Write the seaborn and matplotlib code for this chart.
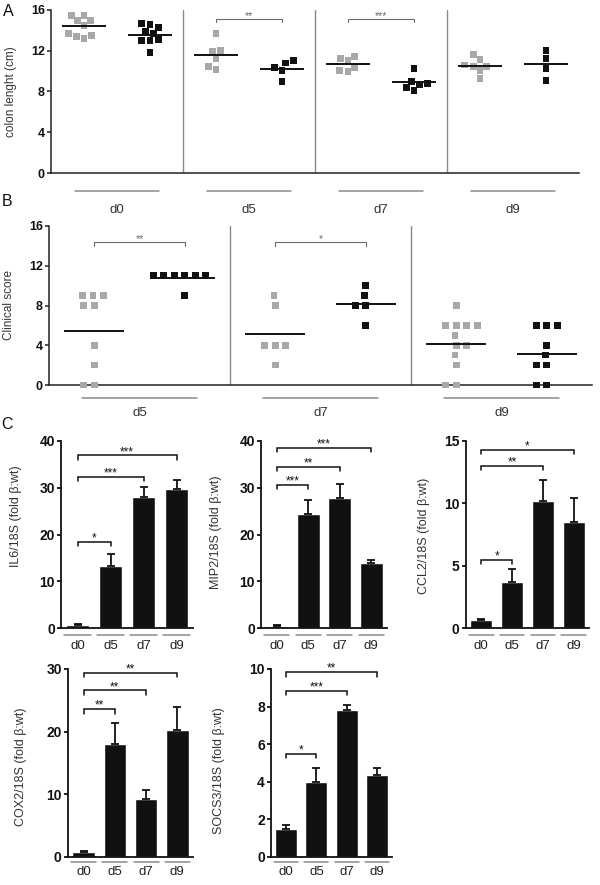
import numpy as np
import pandas as pd
import matplotlib
matplotlib.use("Agg")
import matplotlib.pyplot as plt
import matplotlib.transforms as mtransforms
import seaborn as sns

sns.set_theme(style="ticks")
plt.rcParams["font.family"] = ["Liberation Sans", "DejaVu Sans"]

GREY = "#a8a8a8"
BLACK = "#111111"

# ---------------- Panel A : colon length ----------------
a_days = ["d0", "d5", "d7", "d9"]
a_grey_d0 = [15.0, 15.5, 15.5, 15.0, 14.5, 13.5, 13.2, 13.7, 13.4]
a_black_d0 = [14.7, 14.3, 14.6, 13.7, 13.9, 13.0, 13.0, 13.1, 11.8]
a_grey_d5 = [13.7, 11.9, 12.0, 11.2, 10.2, 10.5]
a_black_d5 = [11.0, 10.8, 10.4, 10.1, 9.0]
a_grey_d7 = [11.2, 11.0, 11.4, 10.4, 10.0, 10.1]
a_black_d7 = [10.3, 9.0, 8.7, 8.8, 8.1, 8.4]
a_grey_d9 = [11.6, 11.1, 10.5, 10.5, 10.6, 10.1, 9.3]
a_black_d9 = [12.0, 11.2, 10.3, 9.1]
a_grey_line = [14.4, 11.6, 10.7, 10.5]
a_black_line = [13.5, 10.2, 8.9, 10.7]
a_sig = [("d5", 15.1, "**"), ("d7", 15.1, "***")]

# ---------------- Panel B : clinical score ----------------
b_days = ["d5", "d7", "d9"]
b_grey_d5 = [9, 9, 9, 8, 8, 4, 2, 0, 0]
b_black_d5 = [11, 11, 11, 11, 11, 11, 9]
b_grey_d7 = [9, 8, 4, 4, 4, 2]
b_black_d7 = [10, 9, 8, 8, 6]
b_grey_d9 = [8, 6, 6, 6, 6, 5, 4, 4, 3, 2, 0, 0]
b_black_d9 = [6, 6, 6, 4, 3, 2, 2, 0, 0]
b_grey_line = [5.4, 5.1, 4.1]
b_black_line = [10.8, 8.2, 3.1]
b_sig = [("d5", 14.4, "**"), ("d7", 14.4, "*")]

# ---------------- Panel C : qPCR bars ----------------
c_days = ["d0", "d5", "d7", "d9"]
il6_mean = [0.6, 13.2, 28.1, 29.8]
il6_sem = [0.2, 2.6, 2.1, 1.8]
mip2_mean = [0.5, 24.4, 27.8, 13.9]
mip2_sem = [0.15, 2.9, 2.9, 0.7]
ccl2_mean = [0.65, 3.7, 10.2, 8.5]
ccl2_sem = [0.05, 1.0, 1.7, 1.9]
cox2_mean = [0.8, 18.0, 9.2, 20.2]
cox2_sem = [0.1, 3.4, 1.5, 3.7]
socs3_mean = [1.5, 4.0, 7.83, 4.36]
socs3_sem = [0.2, 0.75, 0.25, 0.35]
il6_sig = [(1, 18.4, "*"), (2, 32.4, "***"), (3, 36.9, "***")]
mip2_sig = [(1, 30.6, "***"), (2, 34.5, "**"), (3, 38.6, "***")]
ccl2_sig = [(1, 5.47, "*"), (2, 13.0, "**"), (3, 14.3, "*")]
cox2_sig = [(1, 23.6, "**"), (2, 26.6, "**"), (3, 29.4, "**")]
socs3_sig = [(1, 5.5, "*"), (2, 8.85, "***"), (3, 9.84, "**")]

W, H = 600, 885
fig = plt.figure(figsize=(W / 100, H / 100), dpi=100)


def add_axes(l, r, t, b):
    return fig.add_axes([l / W, 1 - b / H, (r - l) / W, (b - t) / H])


def style_axis(ax, tsize, lw=1.1, col="#222222"):
    sns.despine(ax=ax)
    for s in ("left", "bottom"):
        ax.spines[s].set_linewidth(lw)
        ax.spines[s].set_color(col)
    ax.tick_params(axis="y", length=3, width=lw, color=col, labelsize=tsize,
                   pad=1.5, labelcolor="#111111")
    for lbl in ax.get_yticklabels():
        lbl.set_fontweight("bold")


def bracket(ax, x1, x2, y, text, tip_px, color, lw, fsize, off):
    h = tip_px * (ax.get_ylim()[1] - ax.get_ylim()[0]) / ax.get_window_extent().height
    ax.plot([x1, x1, x2, x2], [y - h, y, y, y - h], color=color, lw=lw,
            clip_on=False, solid_joinstyle="miter")
    ax.annotate(text, ((x1 + x2) / 2, y), xytext=(0, off), textcoords="offset points",
                ha="center", va="bottom", fontsize=fsize, color=color)


def scatter_panel(ax, days, greys, blacks, gline, bline, sig, msize, gap,
                  ylabel, under_frac, label_pad, tip_px):
    rows = []
    order = []
    for d, g, b in zip(days, greys, blacks):
        order += [d + " wt", d + " mut"]
        rows += [(d + " wt", "wt", v) for v in g]
        rows += [(d + " mut", "mut", v) for v in b]
    df = pd.DataFrame(rows, columns=["slot", "group", "value"])
    sns.swarmplot(data=df, x="slot", y="value", hue="group", order=order,
                  palette={"wt": GREY, "mut": BLACK}, marker="s", size=msize,
                  linewidth=gap, edgecolor="none", legend=False, ax=ax, zorder=3)
    for c in ax.collections:
        c.set_clip_on(False)
    n = len(order)
    ax.set_xlim(-0.5, n - 0.5)
    ax.set_ylim(0, 16)
    ax.set_yticks([0, 4, 8, 12, 16])
    pos_g = np.arange(0, n, 2)
    pos_b = pos_g + 1
    ax.hlines(gline, pos_g - 0.33, pos_g + 0.33, color="#111111", lw=1.4, zorder=4)
    ax.hlines(bline, pos_b - 0.33, pos_b + 0.33, color="#111111", lw=1.4, zorder=4)
    for sep in pos_g[1:] - 0.5:
        ax.axvline(sep, color="#8a8a8a", lw=1.0, zorder=1)
    ax.set_xticks(pos_g + 0.5)
    ax.set_xticklabels(days, fontsize=9.5, color="#333333")
    ax.tick_params(axis="x", length=0, pad=label_pad)
    ax.set_xlabel("")
    trans = mtransforms.blended_transform_factory(ax.transData, ax.transAxes)
    for c in pos_g + 0.5:
        ax.plot([c - 0.64, c + 0.64], [under_frac, under_frac], color="#8a8a8a",
                lw=1.1, transform=trans, clip_on=False)
    style_axis(ax, 9)
    ax.set_ylabel(ylabel, fontsize=8.5, color="#333333")
    for d, y, t in sig:
        i = days.index(d) * 2
        bracket(ax, i, i + 1, y, t, tip_px, "#6a6a6a", 0.8, 7.5, -1.5)


# Panel A
axA = add_axes(51, 579, 10, 173)
scatter_panel(axA, a_days,
              [a_grey_d0, a_grey_d5, a_grey_d7, a_grey_d9],
              [a_black_d0, a_black_d5, a_black_d7, a_black_d9],
              a_grey_line, a_black_line, a_sig, 5.0, 0.6, "colon lenght (cm)",
              -18 / 163, 22, 3)
axA.yaxis.set_label_coords(-0.064, 0.5)

# Panel B
axB = add_axes(49, 592, 226, 385)
scatter_panel(axB, b_days,
              [b_grey_d5, b_grey_d7, b_grey_d9],
              [b_black_d5, b_black_d7, b_black_d9],
              b_grey_line, b_black_line, b_sig, 4.7, 2.5, "Clinical score",
              -13 / 159, 16, 4)
axB.yaxis.set_label_coords(-0.063, 0.5)


def bar_panel(ax, means, sems, sig, ylim, yticks, ylabel, lab_xy, under_frac, pad):
    df = pd.DataFrame({"day": c_days, "value": means})
    sns.barplot(data=df, x="day", y="value", order=c_days, color=BLACK,
                width=0.72, errorbar=None, ax=ax, saturation=1, zorder=2)
    x = np.arange(len(c_days))
    ax.errorbar(x, means, yerr=[np.zeros(len(means)), sems], fmt="none",
                ecolor=BLACK, elinewidth=1.3, capsize=3, capthick=1.3, zorder=3)
    ax.set_xlim(-0.5, len(c_days) - 0.5)
    ax.set_ylim(*ylim)
    ax.set_yticks(yticks)
    ax.set_xlabel("")
    ax.set_xticks(x)
    ax.set_xticklabels(c_days, fontsize=9.5, color="#222222")
    ax.tick_params(axis="x", length=0, pad=pad)
    style_axis(ax, 10, lw=1.3, col="#111111")
    ax.set_ylabel(ylabel, fontsize=9, color="#333333")
    ax.yaxis.set_label_coords(*lab_xy)
    trans = mtransforms.blended_transform_factory(ax.transData, ax.transAxes)
    for c in x:
        ax.plot([c - 0.4, c + 0.4], [under_frac, under_frac], color="#8a8a8a",
                lw=1.1, transform=trans, clip_on=False)
    for j, y, t in sig:
        bracket(ax, 0, j, y, t, 4.5, "#111111", 1.1, 8.5, -2)


axC1 = add_axes(61, 193, 441, 628)
bar_panel(axC1, il6_mean, il6_sem, il6_sig, (0, 40), [0, 10, 20, 30, 40],
          "IL6/18S (fold β:wt)", (-0.295, 0.6), -7 / 187, 8.5)
axC2 = add_axes(261, 387, 441, 628)
bar_panel(axC2, mip2_mean, mip2_sem, mip2_sig, (0, 40), [0, 10, 20, 30, 40],
          "MIP2/18S (fold β:wt)", (-0.31, 0.51), -7 / 187, 8.5)
axC3 = add_axes(466, 589, 441, 628)
bar_panel(axC3, ccl2_mean, ccl2_sem, ccl2_sig, (0, 15), [0, 5, 10, 15],
          "CCL2/18S (fold β:wt)", (-0.29, 0.49), -7 / 187, 8.5)
axC4 = add_axes(68, 193, 669, 857)
bar_panel(axC4, cox2_mean, cox2_sem, cox2_sig, (0, 30), [0, 10, 20, 30],
          "COX2/18S (fold β:wt)", (-0.33, 0.48), -5 / 188, 6.5)
axC5 = add_axes(271, 392, 669, 857)
bar_panel(axC5, socs3_mean, socs3_sem, socs3_sig, (0, 10), [0, 2, 4, 6, 8, 10],
          "SOCS3/18S (fold β:wt)", (-0.38, 0.46), -5 / 188, 6.5)

# panel letters
for lt, (px, py) in {"A": (8, 11), "B": (7, 201), "C": (7, 424)}.items():
    fig.text(px / W, 1 - py / H, lt, fontsize=11.5, ha="center", va="center",
             color="#111111")

fig.savefig("out.png", dpi=100)
